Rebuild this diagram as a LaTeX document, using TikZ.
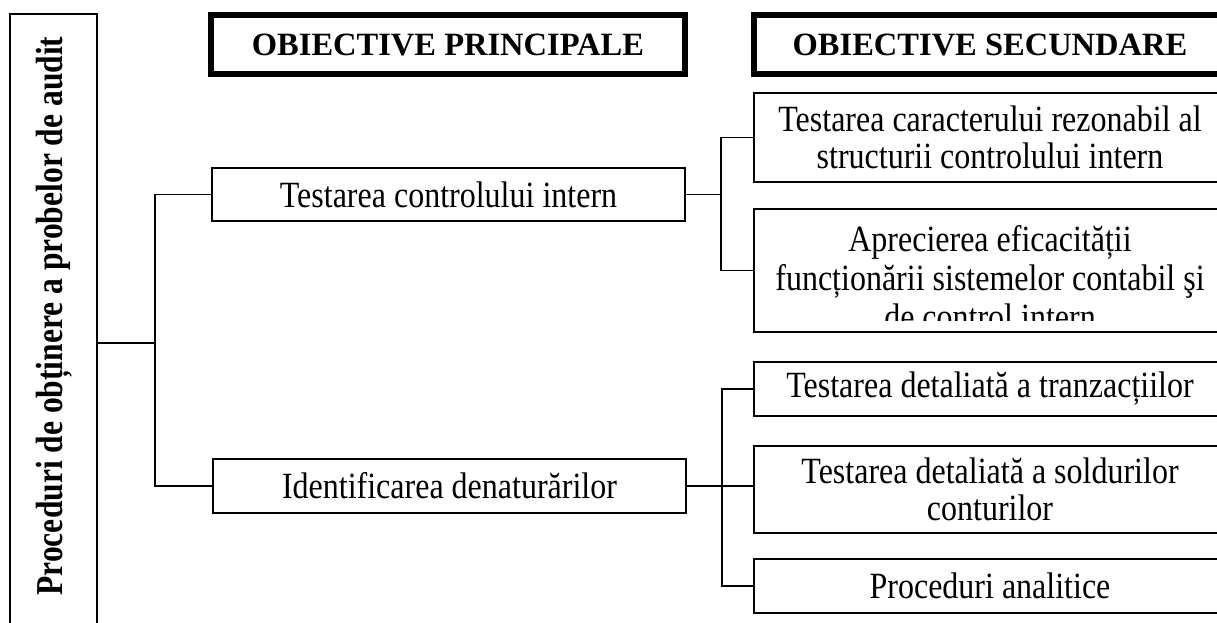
\documentclass[tikz,border=0pt]{standalone}
\usepackage{fontspec}
\setmainfont{Liberation Serif}
\newfontfamily\bodyfont[FakeStretch=0.865]{Liberation Serif}
\newfontfamily\sidefont[FakeStretch=0.83]{Liberation Serif}
\usepackage{tikz}

\begin{document}
\begin{tikzpicture}[x=1pt, y=-1pt,
        box/.style={draw, line width=1.6pt, inner sep=0pt, align=center, font=\bodyfont\fontsize{37}{37}\selectfont},
        headbox/.style={draw, line width=6pt, inner sep=0pt, font=\fontsize{32.5}{37}\selectfont\bfseries},
        link/.style={line width=1.6pt}]
        \useasboundingbox (0,0) rectangle (1217,622);
        \clip (0,0) rectangle (1217,622);

        \node (proc) [box, minimum width=87pt, minimum height=666pt] at (53.5,347) {};
        \node (proctext) [rotate=90, font=\sidefont\bfseries\fontsize{38}{38}\selectfont] at (54.5,316) {Proceduri de obținere a probelor de audit};

        \node (princ) [headbox, minimum width=474pt, minimum height=59pt] at (448,44.5) {OBIECTIVE PRINCIPALE};
        \node (sec) [headbox, minimum width=472pt, minimum height=59pt] at (990,44.5) {OBIECTIVE SECUNDARE};

        \node (tci) [box, minimum width=473pt, minimum height=53pt] at (448.5,194.5) {Testarea controlului intern};
        \node (id) [box, minimum width=473pt, minimum height=54pt] at (449.5,486) {Identificarea denaturărilor};

        \node (car) [box, minimum width=472pt, minimum height=89pt] at (990,137.5) {Testarea caracterului rezonabil al\\ structurii controlului intern};
        \node (apr) [box, minimum width=472pt, minimum height=123pt] at (990,270.5) {};
        \node (tr) [box, minimum width=472pt, minimum height=54pt] at (990,389) {Testarea detaliată a tranzacțiilor};
        \node (sold) [box, minimum width=472pt, minimum height=87pt] at (990,489.5) {Testarea detaliată a soldurilor\\ conturilor};
        \node (pa) [box, minimum width=472pt, minimum height=54pt] at (990,586) {Proceduri analitice};

        \begin{scope}
                \clip (apr.north west) rectangle ([yshift=12pt]apr.south east);
                \node (aprtext) [align=center, font=\bodyfont\fontsize{37}{39}\selectfont] at (990,278) {Aprecierea eficacității\\ funcționării sistemelor contabil şi\\ de control intern};
        \end{scope}

        \coordinate (j0) at (155,343);
        \draw[link] (proc.east |- j0) -- (j0);
        \draw[link] (tci.west) -| (j0) |- (id.west);

        \draw[link] (tci.east) -- ++(35,0) coordinate (j1);
        \draw[link] (car.west) -| (j1) |- (apr.west);

        \path (id.east) ++(35,0) coordinate (j2);
        \draw[link] (id.east) -- (id.east -| sold.west);
        \draw[link] (tr.west) -| (j2) |- (pa.west);
\end{tikzpicture}
\end{document}
